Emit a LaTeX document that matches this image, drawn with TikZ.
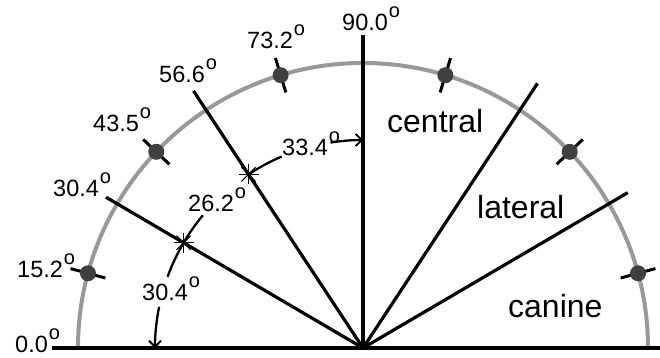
\documentclass[tikz,border=0pt]{standalone}
\usepackage{fontspec}
\setmainfont{Liberation Sans}
\usetikzlibrary{arrows.meta}
\newcommand{\dg}{\kern1pt\raisebox{12.5pt}{\fontsize{20}{20}\selectfont o}}
\begin{document}
\begin{tikzpicture}[x=1pt,y=1pt,
  num/.style={font=\fontsize{23.5}{24}\selectfont, anchor=base west, inner sep=0pt},
  word/.style={font=\fontsize{32}{34}\selectfont, anchor=base west, inner sep=0pt},
  ray/.style={line width=3.2pt},
  dim/.style={line width=2.3pt},
  tickln/.style={line width=3pt},
  dotc/.style={circle, fill=black!75, minimum size=16pt, inner sep=0pt},
  starln/.style={line width=1.1pt},
  rim/.style={line width=4pt, draw=black!40},
  tip/.style={-{Straight Barb[length=6pt,width=12pt,line width=1.8pt]}}
]
\useasboundingbox (-363,-9) rectangle (297,348);

% rim arc
\draw[rim] (180:285pt) arc[start angle=180, end angle=0, radius=285pt];

% centre and rays
\coordinate (O) at (0,0);
\coordinate (e90) at (90:313pt);
\coordinate (eL56) at (123.4:308pt);
\coordinate (eL30) at (149.6:298pt);
\coordinate (eR56) at (56.6:317pt);
\coordinate (eR30) at (30.4:307pt);
\coordinate (bl) at (-311,0);
\coordinate (br) at (297,0);
\draw[line width=3.6pt] (bl) -- (br);
\draw[line width=3.8pt] (O) -- (e90);
\draw[ray] (O) -- (eL56);
\draw[ray] (O) -- (eL30);
\draw[ray] (O) -- (eR56);
\draw[ray] (O) -- (eR30);

% dots with radial ticks
\foreach \a/\n in {15.2/a,43.5/b,73.2/c,106.8/d,136.5/e,164.8/f}{
  \coordinate (ti\n) at (\a:267pt);
  \coordinate (to\n) at (\a:303pt);
  \draw[tickln] (ti\n) -- (to\n);
  \node[dotc] (d\n) at (\a:285pt) {};
}

% stars
\coordinate (sA) at (149.6:208pt);
\coordinate (sB) at (123.4:208pt);
\foreach \s in {sA,sB}{
  \begin{scope}[shift={(\s)}]
    \foreach \t in {0,45,90,135}{
      \draw[starln] (\t:10pt) -- (\t+180:10pt);
    }
  \end{scope}
}

% dimension arcs
\coordinate (g1) at (168.6:208pt);
\coordinate (g2) at (99:208pt);
\draw[dim] (sA) arc[start angle=149.6, end angle=160, radius=208pt];
\draw[dim,tip] (g1) arc[start angle=168.6, end angle=180, radius=208pt];
\draw[dim] (sA) arc[start angle=149.6, end angle=140.3, radius=208pt];
\draw[dim] (sB) arc[start angle=123.4, end angle=113, radius=208pt];
\draw[dim,tip] (g2) arc[start angle=99, end angle=90, radius=208pt];

% angle labels
\node[num] (l90) at (-21,318) {90.0\dg};
\node[num] (l73) at (-116,300) {73.2\dg};
\node[num] (l56) at (-204,266) {56.6\dg};
\node[num] (l43) at (-270,217) {43.5\dg};
\node[num] (l30) at (-310,152) {30.4\dg};
\node[num] (l15) at (-346,71) {15.2\dg};
\node[num] (l0) at (-348,-4) {0.0\dg};
\node[num] (m33) at (-81,193) {33.4\dg};
\node[num] (m26) at (-175,137) {26.2\dg};
\node[num] (m30) at (-221,48) {30.4\dg};

% tooth labels
\node[word] (wc) at (24,216) {central};
\node[word] (wl) at (114,130) {lateral};
\node[word] (wk) at (145,31) {canine};
\end{tikzpicture}
\end{document}
